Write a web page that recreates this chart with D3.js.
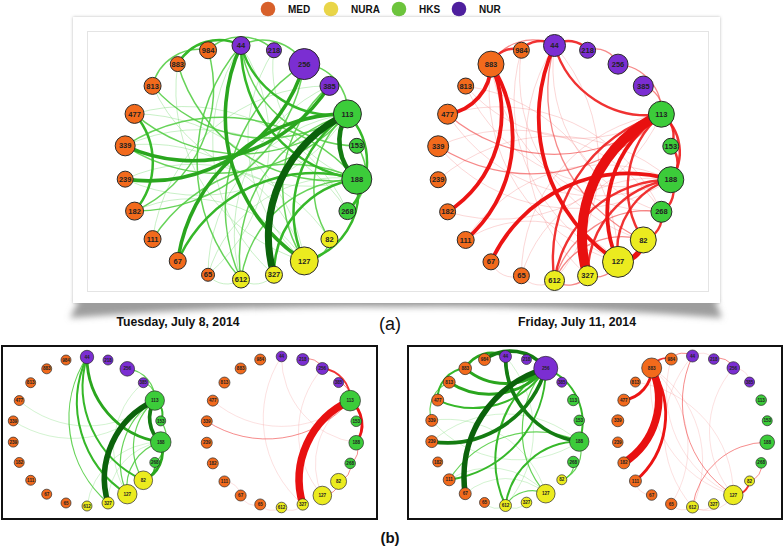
<!DOCTYPE html>
<html><head><meta charset="utf-8">
<script src="https://d3js.org/d3.v7.min.js"></script>
<style>body{margin:0;background:#fff;} svg{display:block;font-family:"Liberation Sans",Arial,sans-serif;}</style>
</head><body><svg id="c" width="784" height="546"></svg>
<script>
// ---------- data ----------
const nodeIds = ["44","218","256","385","113","153","188","268","82","127","327","612","65","67","111","182","239","339","477","813","883","984"];
const nodeGroups = ["NUR","NUR","NUR","NUR","HKS","HKS","HKS","HKS","NURA","NURA","NURA","NURA","MED","MED","MED","MED","MED","MED","MED","MED","MED","MED"];
const groupNames = ["MED","NURA","HKS","NUR"];
const groupColors = ["#f26a1c","#ebeb1f","#3ccc3a","#7b2ed2"];
const legendColors = ["#d8602a","#e9d548","#6cc43c","#4e1f9e"];
const dayLabels = ["Tuesday, July 8, 2014","Friday, July 11, 2014"];
const panelLabels = ["(a)","(b)"];

// node activity (one value per node, order of nodeIds)
const sizeJul8  = [9,7.5,15.5,9.5,14,7.5,15,8.5,8.5,14,8.5,8.5,6.5,8.5,8.5,9,8,10,9.5,8.5,7.5,8.5];
const sizeJul11 = [11,8,10,10,13,8,13,10.5,13,15.5,10,10,8,8,8.5,8,8,10.5,10,8,13,8];
const sizeB1 = [6.7,5,7.3,5,9.7,5,10.3,5,9.3,9.7,6,5,5,5,5,5,5,5,5,5,5,5];
const sizeB2 = [5.3,6,6,5,10.3,5.3,7.3,5.3,8,9.3,5.7,5.3,5.5,5.5,5.5,5.5,5.5,5.5,5.5,5.5,5.5,5.5];
const sizeB3 = [6,5,12,5,5.7,5.3,9.7,5.7,5,9.3,5.3,6,5,6,6,5,6,6,6,6,6.3,6];
const sizeB4 = [6,5.3,6.3,5,5.3,5,7.3,5.3,5,9.7,5.3,6,5.7,5.3,6,6,5.3,6,6,5,10,6];

// links: [source, target, strength 1..6]
const linksJul8 = [
 ["113","327",6],["113","188",5],["44","127",4],["67","113",4],["339","385",4],["239","256",4],
 ["477","182",3],["44","188",3],["127","113",3],["44","113",3],["327","188",3],["67","188",3],
 ["44","612",2],["256","612",2],["111","188",2],["612","188",2],["813","113",2],["883","188",2],
 ["477","113",2],["339","113",2],["182","256",2],["182","984",2],["612","113",2],["153","44",2],
 ["385","127",2],["82","113",2],["339","188",2],
 ["327","44",1],["127","339",1],["82","239",1],["268","477",1],["218","127",1],["218","188",1],
 ["65","188",1],["65","113",1],["612","385",1],["339","268",1],["813","188",1],["883","127",1],
 ["239","113",1],["477","127",1],["111","385",1],["182","127",1],["65","44",1]
];
const rimJul8 = [
 ["883","44",3],["984","218",2],["44","256",2],["256","113",2],["113","268",3],["188","127",3],
 ["153","268",2],["82","127",2],["612","327",1],["65","612",1],["813","984",2]
];
const linksJul11 = [
 ["113","327",6],["113","127",4],["883","182",4],["883","111",4],["883","477",4],["67","188",4],
 ["44","127",4],["113","612",3],["188","612",3],["188","327",3],["44","113",3],["268","612",2],
 ["82","612",2],["339","113",2],["477","113",2],["44","82",2],["113","82",3],["188","127",3],
 ["339","188",1],["339","268",1],["477","188",1],["813","127",1],["813","188",1],["984","127",1],
 ["984","82",1],["44","268",1],["111","188",1],["883","127",1],["883","268",1],["182","113",1],
 ["65","113",1],["612","44",1],["327","44",1],["239","188",1],["813","113",1],["477","268",1],
 ["111","127",1],["65","188",1]
];
const rimJul11 = [
 ["127","82",5],["113","153",3],["153","188",3],["188","268",3],["268","82",3],["113","188",3],
 ["256","113",2],["385","113",2],["218","256",2],["44","218",3],["984","44",3],["883","984",3],
 ["883","44",2],["612","327",2],["327","127",2],["65","612",1],["67","65",1]
];
const linksB1 = [
 ["113","327",6],["113","188",5],["44","127",3],["44","82",3],["44","188",4],["44","327",2],
 ["188","127",2],["113","127",2],["612","188",1],["327","188",1],["82","113",2],
 ["339","113",1],["477","113",1],["385","127",1]
];
const rimB1 = [["188","82",4],["113","153",3],["268","82",3],["256","113",2],["385","113",2],["153","268",2]];
const linksB2 = [
 ["113","327",6],["44","327",1],["339","113",2],["477","113",1],["127","113",1],["44","188",1],
 ["256","127",1],["111","67",1]
];
const rimB2 = [["113","188",4],["256","113",3],["218","256",2],["385","113",2],["188","268",2],
 ["268","82",2],["82","127",2],["612","327",1],["65","612",1],["67","65",1]];
const linksB3 = [
 ["256","67",6],["256","239",5],["883","256",4],["813","256",4],["477","256",3],["44","188",5],
 ["256","612",3],["256","111",3],["188","612",3],["188","111",2],["612","127",2],["256","127",2],
 ["339","188",1],["239","188",1],["67","127",1],["111","127",1],["612","44",1],["339","127",1]
];
const rimB3 = [["984","256",5],["883","44",4],["256","188",3],["188","82",2],["268","82",2],
 ["612","327",1],["65","612",1],["477","883",3],["339","813",2]];
const linksB4 = [
 ["883","182",6],["883","111",4],["883","477",4],["44","127",2],["188","612",2],
 ["883","127",1],["883","612",1],["883","65",1],["984","127",1],["813","127",1],["44","612",1],["256","127",1]
];
const rimB4 = [["883","984",3],["984","44",2],["44","218",1],["218","256",2],["127","82",3],
 ["82","268",2],["256","385",1],["65","612",1],["67","111",1],["612","327",1],["127","612",1]];

// ---------- drawing ----------
const svg = d3.select("#c");
const defs = svg.append("defs");
const blur = defs.append("filter").attr("id","blur").attr("x","-10%").attr("y","-50%").attr("width","120%").attr("height","200%");
blur.append("feGaussianBlur").attr("stdDeviation",3);
const sh = defs.append("filter").attr("id","sh").attr("x","-5%").attr("y","-5%").attr("width","110%").attr("height","110%");
sh.append("feDropShadow").attr("dx",0).attr("dy",0).attr("stdDeviation",1.5).attr("flood-color","#888").attr("flood-opacity",0.6);

// legend
const lg = svg.append("g");
const legendX = d3.scalePoint().domain(groupNames).range([268,459]);
groupNames.forEach((g,i)=>{
  const x = [268,331,399,459][i];
  lg.append("circle").attr("cx",x).attr("cy",9).attr("r",7.3).attr("fill",legendColors[i]);
  lg.append("text").attr("x",x+20).attr("y",13).attr("font-size",10).attr("font-weight","bold").attr("fill","#111").text(g);
});

// card (a)
svg.append("path").attr("d","M80,298 L714,298 L722,318 Q560,305 398,307 Q236,305 70,318 Z")
  .attr("fill","#8c8c8c").attr("fill-opacity",0.85).attr("filter","url(#blur)");
svg.append("rect").attr("x",73).attr("y",17).attr("width",647).attr("height",286).attr("fill","#fff").attr("filter","url(#sh)");
svg.append("rect").attr("x",73).attr("y",17).attr("width",647).attr("height",286).attr("fill","#fff");
svg.append("rect").attr("x",87.5).attr("y",31.5).attr("width",621).attr("height",260).attr("fill","#fff").attr("stroke","#e4e4e4");

// boxes (b)
svg.append("rect").attr("x",2).attr("y",346).attr("width",375).attr("height",173).attr("fill","#fff").attr("stroke","#111").attr("stroke-width",2);
svg.append("rect").attr("x",408).attr("y",346).attr("width",374).attr("height",173).attr("fill","#fff").attr("stroke","#111").attr("stroke-width",2);

// texts
svg.append("text").attr("x",178).attr("y",326).attr("text-anchor","middle").attr("font-size",12).attr("font-weight","bold")
  .attr("textLength",123).attr("lengthAdjust","spacingAndGlyphs").attr("fill","#111").text(dayLabels[0]);
svg.append("text").attr("x",577).attr("y",326).attr("text-anchor","middle").attr("font-size",12).attr("font-weight","bold")
  .attr("textLength",118).attr("lengthAdjust","spacingAndGlyphs").attr("fill","#111").text(dayLabels[1]);
svg.append("text").attr("x",390).attr("y",330).attr("text-anchor","middle").attr("font-size",18).attr("fill","#111").text(panelLabels[0]);
svg.append("text").attr("x",390).attr("y",543).attr("text-anchor","middle").attr("font-size",15).attr("font-weight","bold").attr("fill","#111").text(panelLabels[1]);

const greenStroke = d3.scaleOrdinal().domain([1,2,3,4,5,6]).range(["#86de80","#4ccb3c","#36b829","#2aa61e","#147c12","#0b620b"]);
const greenOpacity = d3.scaleOrdinal().domain([1,2,3,4,5,6]).range([0.5,0.85,1,1,1,1]);
const redStroke = d3.scaleOrdinal().domain([1,2,3,4,5,6]).range(["#f26a6a","#f03838","#ee1c1c","#ec1414","#ea1212","#e81010"]);
const redOpacity = d3.scaleOrdinal().domain([1,2,3,4,5,6]).range([0.3,0.6,0.9,1,1,1]);
const greenWidth = d3.scaleOrdinal().domain([1,2,3,4,5,6]).range([0.9,1.5,2.5,3.6,4.6,7]);
const redWidth = d3.scaleOrdinal().domain([1,2,3,4,5,6]).range([0.9,1.3,2.4,3.8,5.5,10]);

const panels = [
  {cx:241,cy:162.5,R:117,sizes:sizeJul8,links:linksJul8,rim:rimJul8,col:"g",wf:1,fs:7.5,sw:1},
  {cx:554.5,cy:163,R:117.5,sizes:sizeJul11,links:linksJul11,rim:rimJul11,col:"r",wf:1,fs:7.5,sw:1},
  {cx:87,cy:431.5,R:74.5,sizes:sizeB1,links:linksB1,rim:rimB1,col:"g",wf:0.8,fs:4.6,sw:0.7},
  {cx:281.5,cy:432,R:75.5,sizes:sizeB2,links:linksB2,rim:rimB2,col:"r",wf:0.75,fs:4.6,sw:0.7},
  {cx:505.5,cy:431,R:74.5,sizes:sizeB3,links:linksB3,rim:rimB3,col:"g",wf:0.8,fs:4.6,sw:0.7},
  {cx:692.5,cy:431.5,R:75.5,sizes:sizeB4,links:linksB4,rim:rimB4,col:"r",wf:0.75,fs:4.6,sw:0.7}
];

const angle = d3.scalePoint().domain(nodeIds).range([0, 2*Math.PI*(nodeIds.length-1)/nodeIds.length]);
const colorOf = d3.scaleOrdinal().domain(groupNames).range(groupColors);

function arcPath(p1,p2,c,outward,k){
  const dx=p2[0]-p1[0], dy=p2[1]-p1[1], d=Math.hypot(dx,dy);
  const r=d*k;
  const cross = dx*(c[1]-p1[1]) - dy*(c[0]-p1[0]);
  let sweep = cross<0 ? 1 : 0;
  if(outward) sweep = 1-sweep;
  return `M${p1[0]},${p1[1]}A${r},${r} 0 0,${sweep} ${p2[0]},${p2[1]}`;
}

panels.forEach(p=>{
  const g = svg.append("g");
  const pos = id => { const a = angle(id); return [p.cx + p.R*Math.sin(a), p.cy - p.R*Math.cos(a)]; };
  const radius = d3.scaleLinear().domain([0,1]).range([0,1]);
  const all = p.links.map(l=>({s:l[0],t:l[1],w:l[2],out:false}))
    .concat(p.rim.map(l=>({s:l[0],t:l[1],w:l[2],out:true})))
    .sort((a,b)=>a.w-b.w);
  g.selectAll("path.link").data(all).join("path").attr("class","link")
    .attr("d",d=>arcPath(pos(d.s),pos(d.t),[p.cx,p.cy],d.out,d.out?0.72:0.76))
    .attr("fill","none")
    .attr("stroke",d=>p.col==="g"?greenStroke(d.w):redStroke(d.w))
    .attr("stroke-opacity",d=>p.col==="g"?greenOpacity(d.w):redOpacity(d.w))
    .attr("stroke-width",d=>(p.col==="g"?greenWidth(d.w):redWidth(d.w))*p.wf);
  const nodes = nodeIds.map((id,i)=>({id,grp:nodeGroups[i],r:radius(p.sizes[i])}));
  const ng = g.selectAll("g.node").data(nodes).join("g").attr("class","node")
    .attr("transform",d=>`translate(${pos(d.id)[0]},${pos(d.id)[1]})`);
  ng.append("circle").attr("r",d=>d.r).attr("fill",d=>colorOf(d.grp)).attr("stroke","#2a2a2a").attr("stroke-width",p.sw);
  ng.append("text").attr("text-anchor","middle").attr("dy","0.35em").attr("font-size",p.fs)
    .attr("font-weight","bold").attr("fill","#222").text(d=>d.id);
});
</script>
</body></html>
